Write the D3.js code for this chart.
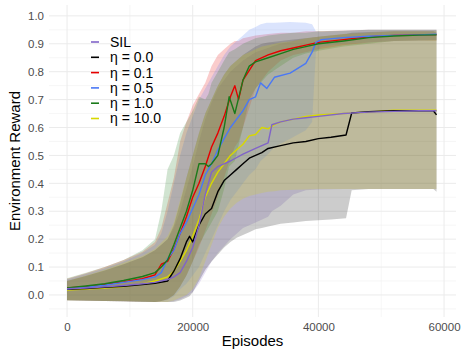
<!DOCTYPE html>
<html>
<head>
<meta charset="utf-8">
<script src="https://cdn.jsdelivr.net/npm/d3@7"></script>
<style>
  body { margin: 0; background: #fff; }
  svg { display: block; font-family: "Liberation Sans", Arial, sans-serif; }
</style>
</head>
<body>
<div id="wrapper"></div>
<script>
// each row: [episode, mean, lower, upper]
const sil = [
  [0, 0.022, -0.02, 0.05], [3000, 0.025, -0.021, 0.068], [6000, 0.029, -0.022, 0.088],
  [9000, 0.034, -0.023, 0.11], [12000, 0.04, -0.024, 0.135], [14000, 0.045, -0.025, 0.16],
  [16000, 0.055, -0.025, 0.20], [17000, 0.065, -0.022, 0.24], [18000, 0.08, -0.015, 0.30],
  [19000, 0.12, -0.005, 0.38], [20000, 0.17, 0.01, 0.46], [21000, 0.25, 0.04, 0.55],
  [22000, 0.36, 0.08, 0.63], [23000, 0.44, 0.12, 0.69], [24000, 0.46, 0.15, 0.74],
  [26000, 0.48, 0.20, 0.80], [28000, 0.505, 0.24, 0.84], [30000, 0.525, 0.26, 0.87],
  [32000, 0.545, 0.28, 0.885], [32600, 0.61, 0.30, 0.89], [34000, 0.62, 0.32, 0.90],
  [36000, 0.63, 0.36, 0.91], [38000, 0.635, 0.375, 0.92], [40000, 0.64, 0.378, 0.925],
  [44000, 0.65, 0.38, 0.935], [48000, 0.655, 0.38, 0.94], [52000, 0.658, 0.38, 0.945],
  [56000, 0.66, 0.38, 0.945], [58800, 0.66, 0.38, 0.945]
];
const eta00 = [
  [0, 0.02, -0.02, 0.05], [3000, 0.023, -0.021, 0.068], [6000, 0.027, -0.022, 0.088],
  [9000, 0.031, -0.023, 0.11], [12000, 0.037, -0.024, 0.135], [14000, 0.042, -0.025, 0.16],
  [16000, 0.05, -0.025, 0.20], [17000, 0.085, -0.025, 0.25], [18000, 0.13, -0.02, 0.33],
  [19000, 0.19, -0.01, 0.42], [19500, 0.21, -0.005, 0.46], [20000, 0.19, 0.01, 0.50],
  [21000, 0.25, 0.05, 0.58], [22000, 0.29, 0.09, 0.65], [23000, 0.31, 0.12, 0.70],
  [24000, 0.37, 0.145, 0.75], [25000, 0.41, 0.17, 0.79], [26000, 0.43, 0.19, 0.82],
  [27000, 0.45, 0.205, 0.84], [28000, 0.47, 0.215, 0.86], [29000, 0.49, 0.225, 0.875],
  [30000, 0.50, 0.235, 0.89], [31000, 0.51, 0.24, 0.90], [32000, 0.525, 0.245, 0.905],
  [34000, 0.535, 0.255, 0.91], [36000, 0.545, 0.26, 0.915], [38000, 0.55, 0.265, 0.92],
  [40000, 0.56, 0.268, 0.925], [42000, 0.565, 0.27, 0.93], [44400, 0.573, 0.275, 0.935],
  [45300, 0.652, 0.375, 0.94], [48000, 0.657, 0.38, 0.942], [52000, 0.66, 0.38, 0.945],
  [56000, 0.66, 0.38, 0.945], [58300, 0.66, 0.38, 0.945], [58800, 0.645, 0.37, 0.94]
];
const eta01 = [
  [0, 0.025, -0.018, 0.058], [3000, 0.03, -0.02, 0.078], [6000, 0.038, -0.022, 0.10],
  [9000, 0.047, -0.023, 0.125], [12000, 0.058, -0.024, 0.155], [14000, 0.072, -0.025, 0.19],
  [15000, 0.11, -0.022, 0.24], [16000, 0.12, -0.015, 0.33], [17000, 0.165, 0.0, 0.42],
  [18000, 0.22, 0.03, 0.55], [19000, 0.28, 0.07, 0.62], [20000, 0.35, 0.12, 0.68],
  [21000, 0.40, 0.17, 0.72], [22000, 0.46, 0.23, 0.76], [23000, 0.53, 0.29, 0.82],
  [24000, 0.58, 0.35, 0.86], [25000, 0.64, 0.42, 0.88], [26000, 0.71, 0.49, 0.90],
  [26700, 0.75, 0.53, 0.91], [27300, 0.70, 0.55, 0.91], [28000, 0.77, 0.60, 0.92],
  [30000, 0.84, 0.74, 0.93], [32000, 0.86, 0.80, 0.935], [34000, 0.875, 0.84, 0.94],
  [36000, 0.885, 0.86, 0.94], [38000, 0.895, 0.87, 0.945], [40000, 0.905, 0.88, 0.945],
  [44000, 0.915, 0.895, 0.948], [48000, 0.925, 0.905, 0.95], [52000, 0.93, 0.91, 0.95],
  [56000, 0.932, 0.912, 0.95], [58800, 0.933, 0.912, 0.95]
];
const eta05 = [
  [0, 0.022, -0.018, 0.055], [3000, 0.028, -0.02, 0.075], [6000, 0.035, -0.022, 0.095],
  [9000, 0.045, -0.023, 0.12], [12000, 0.055, -0.024, 0.15], [14000, 0.065, -0.025, 0.18],
  [15000, 0.08, -0.022, 0.22], [16000, 0.13, -0.018, 0.30], [17000, 0.16, -0.005, 0.40],
  [18000, 0.22, 0.02, 0.50], [19000, 0.26, 0.04, 0.58], [20000, 0.31, 0.07, 0.64],
  [21000, 0.36, 0.10, 0.70], [22000, 0.43, 0.15, 0.74], [23000, 0.47, 0.20, 0.78],
  [24000, 0.52, 0.25, 0.82], [25000, 0.56, 0.30, 0.86], [26000, 0.60, 0.34, 0.89],
  [27000, 0.63, 0.37, 0.91], [28000, 0.66, 0.40, 0.93], [29000, 0.70, 0.43, 0.95],
  [30000, 0.71, 0.45, 0.96], [30800, 0.76, 0.48, 0.97], [31800, 0.74, 0.50, 0.975],
  [33000, 0.78, 0.53, 0.975], [35500, 0.795, 0.56, 0.978], [38000, 0.83, 0.59, 0.975],
  [39000, 0.87, 0.62, 0.97], [39600, 0.905, 0.87, 0.945], [40500, 0.915, 0.89, 0.943],
  [44000, 0.922, 0.90, 0.947], [48000, 0.927, 0.905, 0.95], [52000, 0.93, 0.91, 0.95],
  [56000, 0.932, 0.912, 0.95], [58800, 0.934, 0.914, 0.95]
];
const eta10 = [
  [0, 0.025, -0.018, 0.06], [3000, 0.032, -0.02, 0.08], [6000, 0.04, -0.022, 0.10],
  [9000, 0.052, -0.023, 0.125], [12000, 0.066, -0.024, 0.16], [14000, 0.08, -0.025, 0.20],
  [15000, 0.10, -0.022, 0.30], [16000, 0.125, -0.015, 0.45], [17000, 0.18, 0.0, 0.50],
  [18000, 0.24, 0.03, 0.58], [19000, 0.30, 0.07, 0.62], [20000, 0.375, 0.12, 0.66],
  [21000, 0.47, 0.18, 0.71], [22000, 0.47, 0.22, 0.70], [22500, 0.46, 0.24, 0.72],
  [23000, 0.47, 0.26, 0.76], [24000, 0.50, 0.30, 0.80], [25000, 0.60, 0.38, 0.84],
  [25800, 0.71, 0.46, 0.87], [26700, 0.65, 0.48, 0.88], [28000, 0.77, 0.60, 0.90],
  [29000, 0.82, 0.70, 0.91], [30000, 0.835, 0.74, 0.92], [32000, 0.85, 0.79, 0.93],
  [34000, 0.865, 0.82, 0.935], [36000, 0.88, 0.85, 0.94], [38000, 0.89, 0.865, 0.94],
  [40000, 0.90, 0.875, 0.945], [44000, 0.91, 0.89, 0.947], [48000, 0.922, 0.90, 0.95],
  [52000, 0.928, 0.91, 0.95], [56000, 0.931, 0.912, 0.95], [58800, 0.932, 0.912, 0.95]
];
const eta100 = [
  [0, 0.018, -0.02, 0.05], [3000, 0.021, -0.021, 0.07], [6000, 0.025, -0.022, 0.09],
  [9000, 0.03, -0.023, 0.115], [12000, 0.04, -0.024, 0.14], [14000, 0.05, -0.025, 0.165],
  [16000, 0.065, -0.025, 0.21], [17000, 0.085, -0.02, 0.26], [18000, 0.12, -0.01, 0.34],
  [19000, 0.16, 0.0, 0.42], [20000, 0.21, 0.02, 0.50], [21000, 0.27, 0.06, 0.58],
  [22000, 0.35, 0.12, 0.65], [23000, 0.40, 0.18, 0.70], [24000, 0.44, 0.24, 0.75],
  [25000, 0.47, 0.28, 0.79], [26000, 0.50, 0.31, 0.82], [27000, 0.52, 0.33, 0.84],
  [28000, 0.54, 0.345, 0.86], [29000, 0.57, 0.355, 0.87], [30000, 0.575, 0.36, 0.88],
  [31000, 0.60, 0.365, 0.89], [32000, 0.595, 0.37, 0.895], [33000, 0.61, 0.372, 0.90],
  [34000, 0.62, 0.375, 0.905], [36000, 0.63, 0.377, 0.91], [38000, 0.64, 0.378, 0.92],
  [40000, 0.645, 0.38, 0.925], [44000, 0.65, 0.38, 0.935], [48000, 0.655, 0.38, 0.94],
  [52000, 0.662, 0.38, 0.945], [56000, 0.662, 0.38, 0.945], [58800, 0.662, 0.38, 0.945]
];

const seriesNames = ["SIL", "η = 0.0", "η = 0.1", "η = 0.5", "η = 1.0", "η = 10.0"];
const seriesData = [sil, eta00, eta01, eta05, eta10, eta100];
const seriesColors = ["#8064c8", "#000000", "#e60000", "#4a78f5", "#1a7a1a", "#d8d800"];
const lineOrder = [5, 1, 2, 3, 4, 0];
const xTicks = [0, 20000, 40000, 60000];
const yTicks = [0.0, 0.1, 0.2, 0.3, 0.4, 0.5, 0.6, 0.7, 0.8, 0.9, 1.0];

function draw() {
  const width = 464, height = 350;
  const panel = { left: 49, right: 456, top: 5, bottom: 317 };

  const svg = d3.select("#wrapper").append("svg")
    .attr("width", width)
    .attr("height", height);

  const x = d3.scaleLinear().domain([-2870, 61900]).range([panel.left, panel.right]);
  const y = d3.scaleLinear().domain([-0.079, 1.039]).range([panel.bottom, panel.top]);

  // grid (minor then major)
  const grid = svg.append("g");
  const xMinor = d3.range(10000, 60001, 20000);
  const yMinor = d3.range(-0.05, 1.0, 0.1);
  grid.selectAll(".xminor").data(xMinor).join("line")
    .attr("x1", d => x(d)).attr("x2", d => x(d))
    .attr("y1", panel.top).attr("y2", panel.bottom)
    .attr("stroke", "#f0f0f0").attr("stroke-width", 0.6);
  grid.selectAll(".yminor").data(yMinor).join("line")
    .attr("x1", panel.left).attr("x2", panel.right)
    .attr("y1", d => y(d)).attr("y2", d => y(d))
    .attr("stroke", "#f0f0f0").attr("stroke-width", 0.6);
  grid.selectAll(".xmajor").data(xTicks).join("line")
    .attr("x1", d => x(d)).attr("x2", d => x(d))
    .attr("y1", panel.top).attr("y2", panel.bottom)
    .attr("stroke", "#ebebeb").attr("stroke-width", 1);
  grid.selectAll(".ymajor").data(yTicks).join("line")
    .attr("x1", panel.left).attr("x2", panel.right)
    .attr("y1", d => y(d)).attr("y2", d => y(d))
    .attr("stroke", "#ebebeb").attr("stroke-width", 1);

  // ribbons
  const area = d3.area()
    .x(d => x(d[0]))
    .y0(d => y(d[2]))
    .y1(d => y(d[3]));
  svg.append("g").selectAll("path")
    .data(seriesData)
    .join("path")
      .attr("d", d => area(d))
      .attr("fill", (d, i) => seriesColors[i])
      .attr("fill-opacity", 0.2);

  // mean lines
  const line = d3.line()
    .x(d => x(d[0]))
    .y(d => y(d[1]));
  svg.append("g").selectAll("path")
    .data(lineOrder)
    .join("path")
      .attr("d", i => line(seriesData[i]))
      .attr("fill", "none")
      .attr("stroke", i => seriesColors[i])
      .attr("stroke-width", 1.4)
      .attr("stroke-linejoin", "round");

  // axes
  const xAxis = svg.append("g")
    .attr("transform", "translate(0," + (panel.bottom + 2) + ")")
    .call(d3.axisBottom(x).tickValues(xTicks).tickFormat(d3.format("d")).tickSize(0).tickPadding(4));
  const yAxis = svg.append("g")
    .attr("transform", "translate(" + (panel.left - 2) + ",0)")
    .call(d3.axisLeft(y).tickValues(yTicks).tickFormat(d3.format(".1f")).tickSize(0).tickPadding(3));
  [xAxis, yAxis].forEach(a => {
    a.select(".domain").remove();
    a.selectAll("text")
      .attr("fill", "#4d4d4d")
      .style("font-size", "11.5px")
      .style("font-family", "Liberation Sans, Arial, sans-serif");
  });

  svg.append("text")
    .attr("x", (panel.left + panel.right) / 2)
    .attr("y", 346)
    .attr("text-anchor", "middle")
    .style("font-size", "15px")
    .text("Episodes");
  svg.append("text")
    .attr("transform", "translate(20," + ((panel.top + panel.bottom) / 2) + ") rotate(-90)")
    .attr("text-anchor", "middle")
    .style("font-size", "15px")
    .text("Environment Reward");

  // legend
  const legend = svg.append("g").attr("transform", "translate(91,42)");
  const items = legend.selectAll("g")
    .data(seriesNames)
    .join("g")
      .attr("transform", (d, i) => "translate(0," + (i * 15.3) + ")");
  items.append("line")
    .attr("x1", 0).attr("x2", 8)
    .attr("stroke", (d, i) => seriesColors[i])
    .attr("stroke-width", 1.6);
  items.append("text")
    .attr("x", 19)
    .attr("dy", "0.35em")
    .style("font-size", "14px")
    .text(d => d);
}
draw();
</script>
</body>
</html>
